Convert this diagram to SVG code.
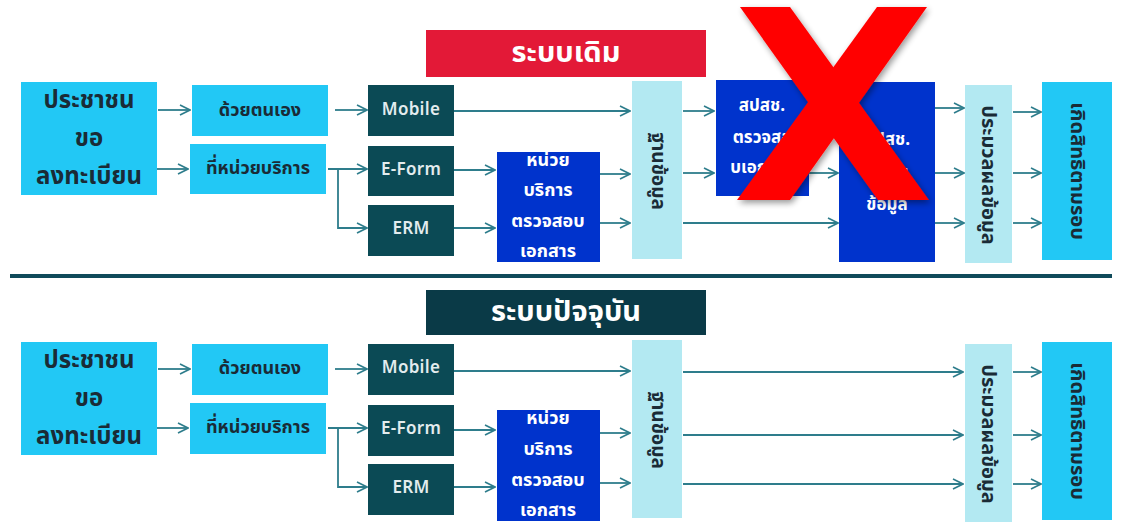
<svg xmlns="http://www.w3.org/2000/svg" width="1125" height="524" viewBox="0 0 1125 524">
<defs>
<marker id="arr" viewBox="0 0 12 12" refX="11" refY="6" markerWidth="12" markerHeight="12" markerUnits="userSpaceOnUse" orient="auto">
<path d="M1,1 L11,6 L1,11" fill="none" stroke="#2E7D8C" stroke-width="1.6"/>
</marker>
<filter id="sh" x="-20%" y="-20%" width="140%" height="140%">
<feGaussianBlur in="SourceAlpha" stdDeviation="3"/>
<feOffset dx="2" dy="3"/>
<feComponentTransfer><feFuncA type="linear" slope="0.4"/></feComponentTransfer>
<feMerge><feMergeNode/><feMergeNode in="SourceGraphic"/></feMerge>
</filter>
</defs>
<style>
text{font-family:"Noto Sans Thai","Noto Sans","DejaVu Sans",sans-serif;font-weight:bold;text-anchor:middle;dominant-baseline:central}
.cyan{fill:#22C8F5}
.teal{fill:#0B4A55}
.blue{fill:#0033CC}
.pale{fill:#B3E9F2}
.dk{fill:#1A2B36}
.wt{fill:#FFFFFF}
.lt{fill:#E3ECEE;font-size:17px;font-weight:600;letter-spacing:0.3px}
.cz{font-size:24px}
.sb{font-size:18px}
.bl{font-size:18px}
.vt{font-size:20px}
.tt{font-size:29px}
.c{stroke:#2E7D8C;stroke-width:1.8;fill:none}
.a{marker-end:url(#arr)}
</style>
<rect width="1125" height="524" fill="#FFFFFF"/>

<!-- Titles -->
<g id="title-old">
<rect x="426" y="30" width="280" height="47" fill="#E31937"/>
<text x="566" y="53" class="wt tt">ระบบเดิม</text>
</g>
<g id="divider"><rect x="10" y="274" width="1102" height="4" fill="#0F4A5A"/></g>
<g id="title-new">
<rect x="426" y="290" width="280" height="45" fill="#0A3A47"/>
<text x="566" y="312" class="wt tt">ระบบปัจจุบัน</text>
</g>

<!-- Connectors -->
<g id="connectors">
<!-- top -->
<line class="c a" x1="158" y1="110" x2="190" y2="110"/>
<line class="c a" x1="157" y1="169" x2="188" y2="169"/>
<line class="c a" x1="335" y1="110" x2="367" y2="110"/>
<line class="c a" x1="328" y1="169" x2="367" y2="169"/>
<polyline class="c a" points="338,169 338,228 367,228"/>
<line class="c a" x1="454" y1="111" x2="630" y2="111"/>
<line class="c a" x1="454" y1="170" x2="495" y2="170"/>
<line class="c a" x1="454" y1="228" x2="495" y2="228"/>
<line class="c a" x1="600" y1="174" x2="630" y2="174"/>
<line class="c a" x1="600" y1="223" x2="630" y2="223"/>
<line class="c a" x1="683" y1="111" x2="714" y2="111"/>
<line class="c a" x1="683" y1="173" x2="714" y2="173"/>
<line class="c a" x1="683" y1="223" x2="838" y2="223"/>
<line class="c a" x1="809" y1="173" x2="838" y2="173"/>
<line class="c a" x1="935" y1="108" x2="964" y2="108"/>
<line class="c a" x1="935" y1="173" x2="964" y2="173"/>
<line class="c a" x1="935" y1="223" x2="964" y2="223"/>
<line class="c a" x1="1013" y1="112" x2="1041" y2="112"/>
<line class="c a" x1="1013" y1="173" x2="1041" y2="173"/>
<line class="c a" x1="1013" y1="223" x2="1041" y2="223"/>
<!-- bottom -->
<line class="c a" x1="158" y1="369" x2="190" y2="369"/>
<line class="c a" x1="157" y1="428" x2="188" y2="428"/>
<line class="c a" x1="335" y1="369" x2="367" y2="369"/>
<line class="c a" x1="328" y1="428" x2="367" y2="428"/>
<polyline class="c a" points="338,428 338,487 367,487"/>
<line class="c a" x1="454" y1="371" x2="630" y2="371"/>
<line class="c a" x1="454" y1="430" x2="495" y2="430"/>
<line class="c a" x1="454" y1="487" x2="495" y2="487"/>
<line class="c a" x1="600" y1="433" x2="630" y2="433"/>
<line class="c a" x1="600" y1="483" x2="630" y2="483"/>
<line class="c a" x1="683" y1="372" x2="963" y2="372"/>
<line class="c a" x1="683" y1="435" x2="963" y2="435"/>
<line class="c a" x1="683" y1="484" x2="963" y2="484"/>
<line class="c a" x1="1013" y1="372" x2="1041" y2="372"/>
<line class="c a" x1="1013" y1="435" x2="1041" y2="435"/>
<line class="c a" x1="1013" y1="484" x2="1041" y2="484"/>
</g>

<!-- Top section nodes -->
<g id="old-citizen">
<rect x="21" y="82" width="136" height="113" class="cyan"/>
<text x="89" y="101" class="dk cz">ประชาชน</text>
<text x="89" y="139" class="dk cz">ขอ</text>
<text x="89" y="177" class="dk cz">ลงทะเบียน</text>
</g>
<g id="old-self">
<rect x="192" y="85" width="136" height="51" class="cyan"/>
<text x="260" y="110" class="dk sb">ด้วยตนเอง</text>
</g>
<g id="old-unit">
<rect x="190" y="144" width="136" height="50" class="cyan"/>
<text x="258" y="168" class="dk sb">ที่หน่วยบริการ</text>
</g>
<g id="old-mobile">
<rect x="368" y="85" width="86" height="51" class="teal"/>
<text x="411" y="110" class="lt">Mobile</text>
</g>
<g id="old-eform">
<rect x="368" y="146" width="86" height="50" class="teal"/>
<text x="411" y="170" class="lt">E-Form</text>
</g>
<g id="old-erm">
<rect x="368" y="205" width="86" height="51" class="teal"/>
<text x="411" y="229" class="lt">ERM</text>
</g>
<g id="old-check">
<rect x="497" y="152" width="103" height="110" class="blue"/>
<text x="548" y="160" class="wt bl">หน่วย</text>
<text x="548" y="190" class="wt bl">บริการ</text>
<text x="548" y="221" class="wt bl">ตรวจสอบ</text>
<text x="548" y="251" class="wt bl">เอกสาร</text>
</g>
<g id="old-db">
<rect x="632" y="81" width="50" height="178" class="pale"/>
<text transform="translate(657,171) rotate(90)" class="dk" font-size="19">ฐานข้อมูล</text>
</g>
<g id="old-nhso-check">
<rect x="716" y="80" width="93" height="116" class="blue"/>
<text x="762" y="106" class="wt" font-size="17">สปสช.</text>
<text x="762" y="138" class="wt" font-size="17">ตรวจสอ</text>
<text x="762" y="168" class="wt" font-size="17">บเอกสาร</text>
</g>
<g id="old-nhso-confirm">
<rect x="839" y="82" width="96" height="180" class="blue"/>
<text x="887" y="140" class="wt" font-size="17">สปสช.</text>
<text x="887" y="173" class="wt" font-size="17">ยืนยัน</text>
<text x="887" y="205" class="wt" font-size="17">ข้อมูล</text>
</g>
<g id="old-process">
<rect x="965" y="85" width="47" height="178" class="pale"/>
<text transform="translate(988,175) rotate(90)" class="dk vt">ประมวลผลข้อมูล</text>
</g>
<g id="old-result">
<rect x="1042" y="82" width="70" height="178" class="cyan"/>
<text transform="translate(1077,171) rotate(90)" class="dk vt">เกิดสิทธิตามรอบ</text>
</g>
<g id="cross" filter="url(#sh)" fill="#FF0000">
<polygon points="740,7 790,7 929,200 878,200"/>
<polygon points="877,7 927,7 790,200 737,200"/>
</g>

<!-- Bottom section nodes -->
<g id="new-citizen">
<rect x="21" y="342" width="136" height="113" class="cyan"/>
<text x="89" y="361" class="dk cz">ประชาชน</text>
<text x="89" y="399" class="dk cz">ขอ</text>
<text x="89" y="437" class="dk cz">ลงทะเบียน</text>
</g>
<g id="new-self">
<rect x="192" y="344" width="136" height="51" class="cyan"/>
<text x="260" y="368" class="dk sb">ด้วยตนเอง</text>
</g>
<g id="new-unit">
<rect x="190" y="403" width="136" height="51" class="cyan"/>
<text x="258" y="427" class="dk sb">ที่หน่วยบริการ</text>
</g>
<g id="new-mobile">
<rect x="368" y="344" width="86" height="51" class="teal"/>
<text x="411" y="368" class="lt">Mobile</text>
</g>
<g id="new-eform">
<rect x="368" y="405" width="86" height="51" class="teal"/>
<text x="411" y="429" class="lt">E-Form</text>
</g>
<g id="new-erm">
<rect x="368" y="464" width="86" height="51" class="teal"/>
<text x="411" y="488" class="lt">ERM</text>
</g>
<g id="new-check">
<rect x="497" y="410" width="103" height="111" class="blue"/>
<text x="548" y="418" class="wt bl">หน่วย</text>
<text x="548" y="449" class="wt bl">บริการ</text>
<text x="548" y="480" class="wt bl">ตรวจสอบ</text>
<text x="548" y="510" class="wt bl">เอกสาร</text>
</g>
<g id="new-db">
<rect x="632" y="340" width="50" height="178" class="pale"/>
<text transform="translate(657,430) rotate(90)" class="dk" font-size="19">ฐานข้อมูล</text>
</g>
<g id="new-process">
<rect x="965" y="344" width="47" height="178" class="pale"/>
<text transform="translate(988,434) rotate(90)" class="dk vt">ประมวลผลข้อมูล</text>
</g>
<g id="new-result">
<rect x="1042" y="342" width="70" height="178" class="cyan"/>
<text transform="translate(1077,431) rotate(90)" class="dk vt">เกิดสิทธิตามรอบ</text>
</g>
</svg>
